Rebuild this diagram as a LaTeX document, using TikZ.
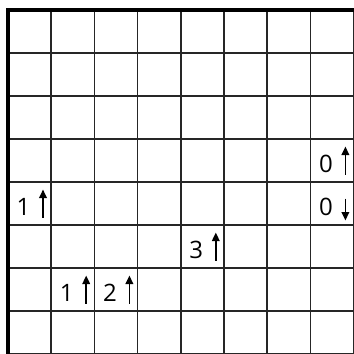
\documentclass[tikz,border=0pt]{standalone}
\usepackage{fontspec}
\setmainfont{Open Sans}
\usetikzlibrary{arrows.meta}
\begin{document}
\begin{tikzpicture}[x=1pt,y=-1pt,
  gridline/.style={line width=1.5pt, black!85},
  frameline/.style={line width=4pt, black, line join=miter},
  clue/.style={font=\fontsize{24}{24}\selectfont, inner sep=0pt, anchor=base},
  dirarrow/.style={line width=1.8pt, -{Triangle[length=8.5pt,width=7.5pt]}}]
\useasboundingbox (0,0) rectangle (354,354);
\fill[white] (0,0) rectangle (354,354);
% grid
\foreach \i in {1,...,8} {
  \draw[gridline] ({8+43.2*\i},10) -- ({8+43.2*\i},355);
  \draw[gridline] (8,{10+43*\i}) -- (355,{10+43*\i});
}
% thick frame (top and left)
\draw[frameline] (8,355) -- (8,10) -- (355,10);
% clues: column, row, digit
\foreach \c/\r/\d/\n in {7/3/0/a, 0/4/1/b, 7/4/0/c, 4/5/3/d, 1/6/1/e, 2/6/2/f} {
  \node[clue] (clue\n) at ({8+43.2*\c+15.5},{10+43*\r+33}) {\d};
}
% up arrows
\foreach \c/\r/\n in {7/3/a, 0/4/b, 4/5/d, 1/6/e, 2/6/f} {
  \coordinate (s\n) at ({8+43.2*\c+35},{10+43*\r+35.5});
  \coordinate (t\n) at ({8+43.2*\c+35},{10+43*\r+7.5});
  \draw[dirarrow] (s\n) -- (t\n);
}
% down arrow
\coordinate (sc) at ({8+43.2*7+35},{10+43*4+16.5});
\coordinate (tc) at ({8+43.2*7+35},{10+43*4+38.5});
\draw[dirarrow] (sc) -- (tc);
\end{tikzpicture}
\end{document}
